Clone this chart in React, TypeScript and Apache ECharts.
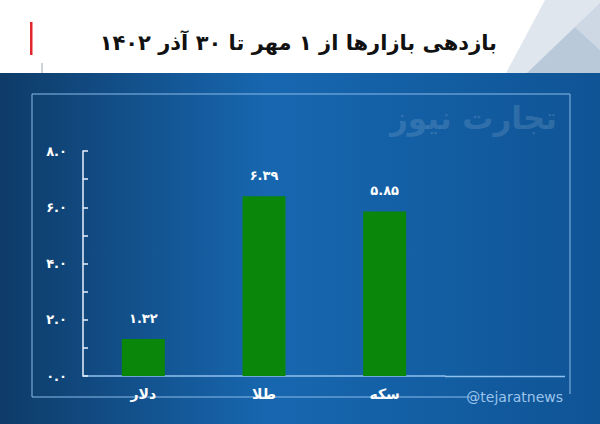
import React, { useEffect, useRef } from "react";
import * as echarts from "echarts";

const categories = ["دلار", "طلا", "سکه"];
const values = [1.32, 6.39, 5.85];
const yMin = 0;
const yMax = 8;
const yInterval = 1;
const title = "بازدهی بازارها از ۱ مهر تا ۳۰ آذر ۱۴۰۲";
const watermark = "تجارت نیوز";
const handle = "@tejaratnews";

const faDigits = ["۰", "۱", "۲", "۳", "۴", "۵", "۶", "۷", "۸", "۹"];
const toFa = (s: string) => s.replace(/[0-9]/g, (d) => faDigits[Number(d)]);

const FONT = "'DejaVu Sans', 'Noto Sans', sans-serif";

export default function App() {
  const ref = useRef<HTMLDivElement>(null);
  useEffect(() => {
    document.body.style.margin = "0";
    if (!ref.current) return;
    const chart = echarts.init(ref.current, null, { renderer: "svg" });
    chart.setOption({
      animation: false,
      backgroundColor: "#ffffff",
      textStyle: { fontFamily: FONT },
      graphic: [
        { type: "polygon", z: -5, shape: { points: [[545, 0], [506, 73], [600, 73], [600, 0]] }, style: { fill: "#dfe6ee" } },
        { type: "polygon", z: -4, shape: { points: [[527, 73], [575, 27], [600, 50], [600, 73]] }, style: { fill: "#b9c9da" } },
        { type: "polygon", z: -4, shape: { points: [[575, 27], [600, 3], [600, 50]] }, style: { fill: "#cdd8e4" } },
        {
          type: "rect", z: -3, shape: { x: 0, y: 73, width: 600, height: 351 },
          style: {
            fill: new echarts.graphic.LinearGradient(0, 0, 1, 0, [
              { offset: 0, color: "#0e3b68" },
              { offset: 0.45, color: "#1767b0" },
              { offset: 1, color: "#0f5495" },
            ]),
          },
        },
        { type: "rect", z: 1, shape: { x: 30, y: 22, width: 2.5, height: 33 }, style: { fill: "#e0262b" } },
        { type: "line", z: 1, shape: { x1: 42, y1: 63, x2: 42, y2: 73 }, style: { stroke: "#9aa6b2", lineWidth: 1 } },
        {
          type: "text", z: 1, x: 497, y: 43,
          style: { text: title, fill: "#111111", font: `bold 21px ${FONT}`, align: "right", verticalAlign: "middle" },
        },
        {
          type: "text", z: -1, x: 557, y: 118,
          style: { text: watermark, fill: "rgba(255,255,255,0.14)", font: `bold 31px ${FONT}`, align: "right", verticalAlign: "middle" },
        },
        {
          type: "polyline", z: -1,
          shape: { points: [[470, 397], [32, 397], [32, 94], [570, 94], [570, 394]] },
          style: { stroke: "#8abbe9", lineWidth: 1, fill: null },
        },
        { type: "line", z: 1, shape: { x1: 445, y1: 376.5, x2: 565, y2: 376.5 }, style: { stroke: "#8ec1ee", lineWidth: 1.5 } },
        {
          type: "text", z: 1, x: 563, y: 397,
          style: { text: handle, fill: "#9cc4ec", font: `14px ${FONT}`, align: "right", verticalAlign: "middle" },
        },
      ],
      grid: { left: 83, right: 155, top: 151, bottom: 48 },
      xAxis: {
        type: "category",
        data: categories,
        axisLine: { lineStyle: { color: "#8ec1ee", width: 1.5 } },
        axisTick: { show: false },
        axisLabel: { color: "#ffffff", fontWeight: "bold", fontSize: 14, margin: 11, fontFamily: FONT },
        splitLine: { show: false },
      },
      yAxis: {
        type: "value",
        min: yMin,
        max: yMax,
        interval: yInterval,
        axisLine: { show: true, lineStyle: { color: "#e8f2fc", width: 1.5 } },
        axisTick: { show: true, inside: true, length: 5, lineStyle: { color: "#e8f2fc", width: 1.5 } },
        axisLabel: {
          color: "#ffffff", fontWeight: "bold", fontSize: 13, margin: 16, fontFamily: FONT,
          formatter: (v: number) => (Math.round(v) % 2 === 0 ? toFa(v.toFixed(1)) : ""),
        },
        splitLine: { show: false },
      },
      series: [
        {
          type: "bar",
          data: values,
          barWidth: 43,
          itemStyle: { color: "#0a870a" },
          label: {
            show: true,
            position: "top",
            distance: 14,
            color: "#ffffff",
            fontWeight: "bold",
            fontSize: 13,
            fontFamily: FONT,
            formatter: (p: any) => toFa(Number(p.value).toFixed(2)),
          },
        },
      ],
    });
    return () => chart.dispose();
  }, []);
  return <div ref={ref} style={{ width: 600, height: 424 }} />;
}
